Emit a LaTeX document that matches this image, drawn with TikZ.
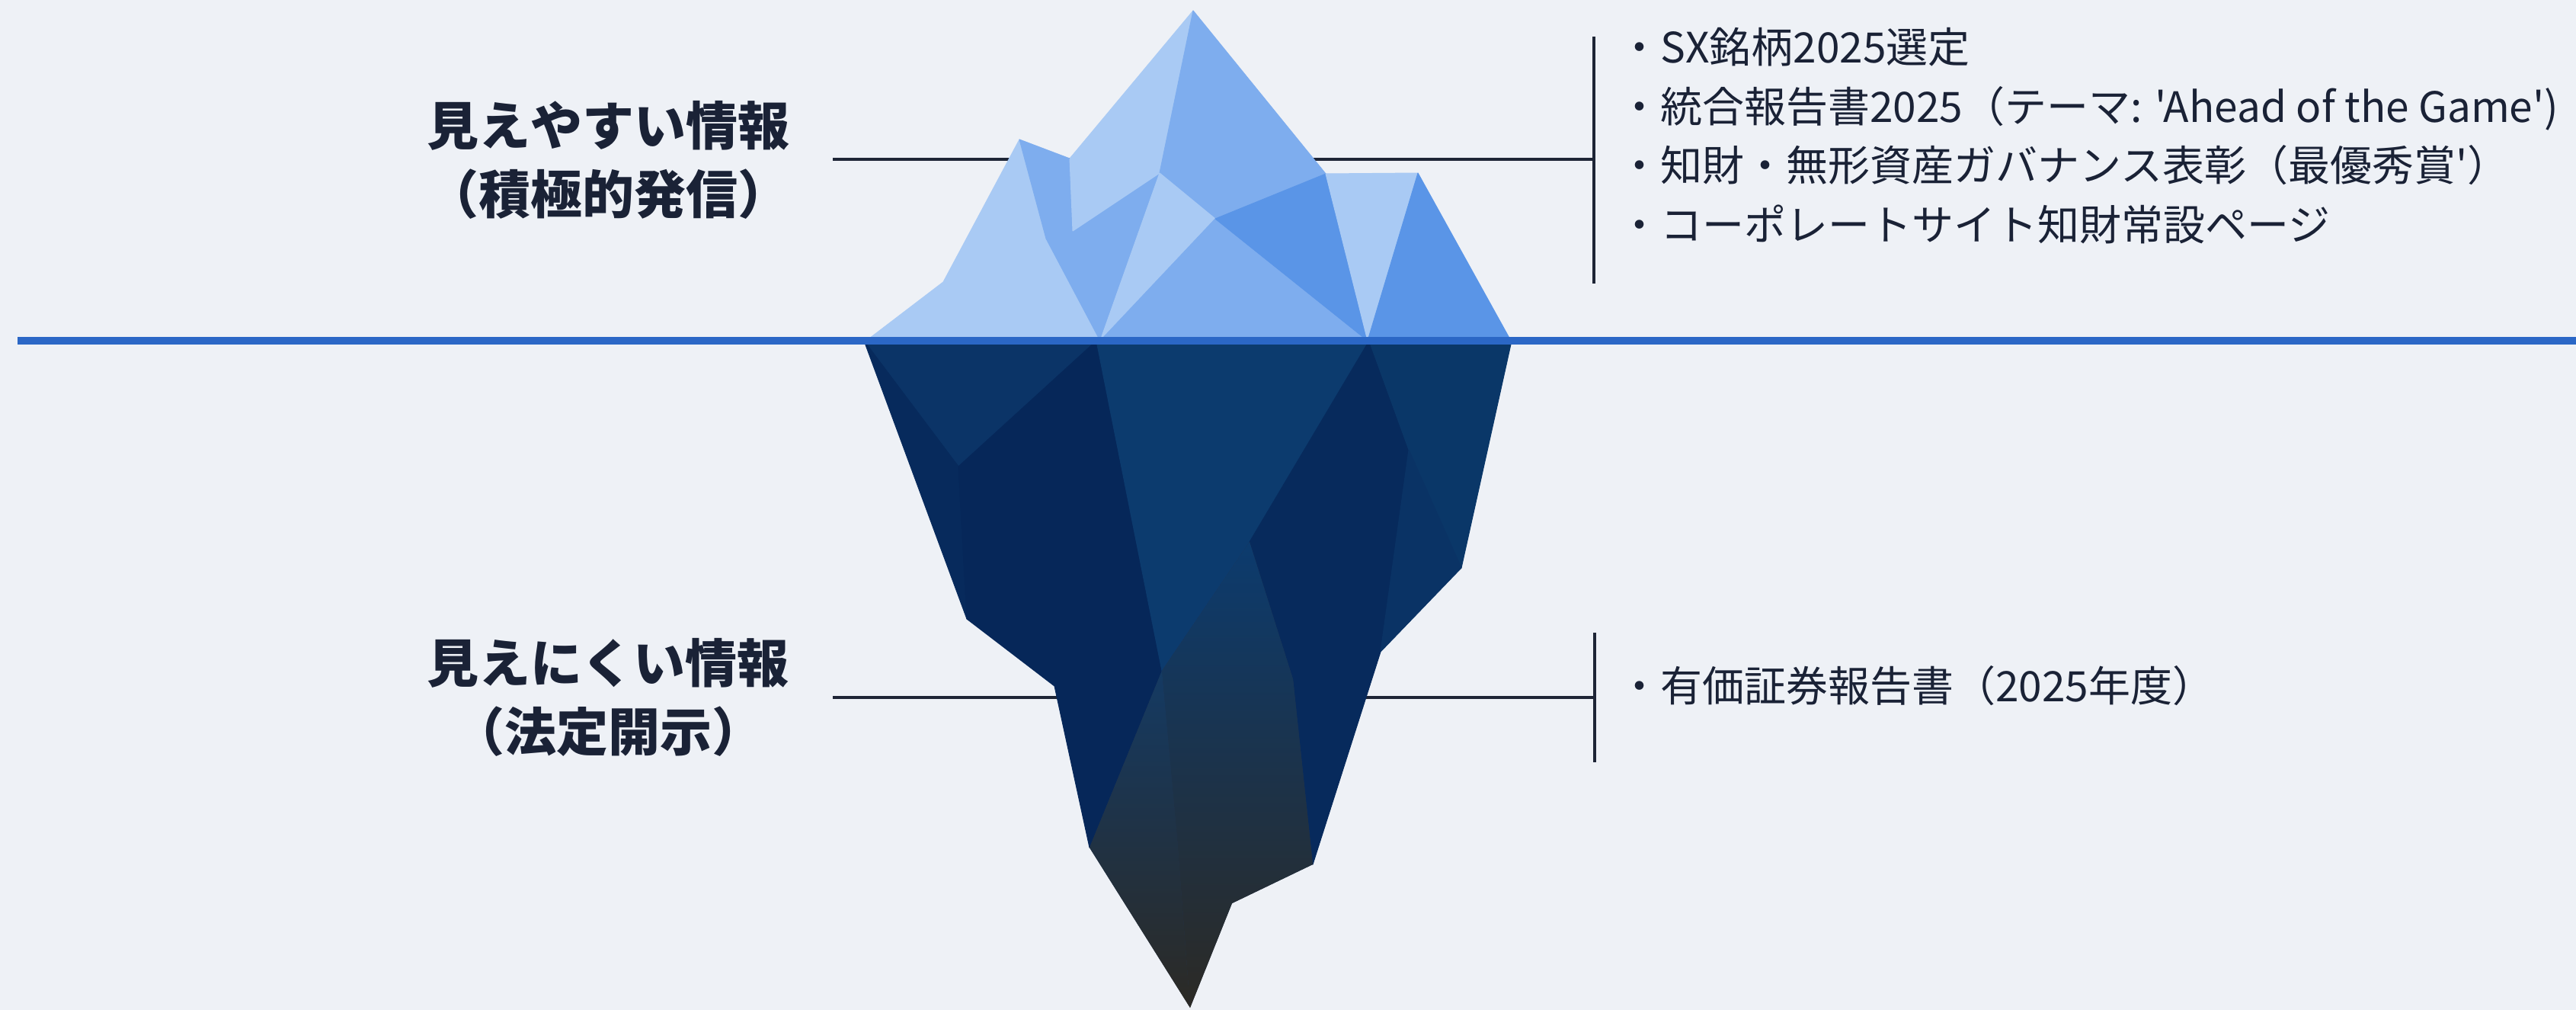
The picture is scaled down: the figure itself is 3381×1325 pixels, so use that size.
\documentclass[tikz,border=0pt]{standalone}
\usepackage{fontspec}
\setmainfont[Ligatures=TeXOff]{Noto Sans CJK JP}
\definecolor{bg}{HTML}{EEF1F6}
\definecolor{ink}{HTML}{1A2236}
\definecolor{rule}{HTML}{1E2536}
\definecolor{water}{HTML}{2B67C6}
\definecolor{iceL}{HTML}{A9CAF4}
\definecolor{iceM}{HTML}{7EADEE}
\definecolor{iceD}{HTML}{5A95E7}
\definecolor{deepA}{HTML}{0B3467}
\definecolor{deepB}{HTML}{072A5C}
\definecolor{deepC}{HTML}{062759}
\definecolor{deepD}{HTML}{0C3B6E}
\definecolor{deepE}{HTML}{0A3768}
\definecolor{deepF}{HTML}{0A3365}
\definecolor{deepG}{HTML}{24334F}
\definecolor{abyss}{HTML}{2C2A25}
\tikzset{
  conn/.style={draw=rule, line width=3.5pt},
  headlbl/.style={text=ink, align=center, font=\fontsize{68}{90}\selectfont\bfseries},
  item/.style={text=ink, anchor=west, inner sep=0pt, text height=0.88em, text depth=0.12em,
               font=\fontsize{55}{64}\selectfont},
  facet/.style={line join=round, line width=1pt},
}
\begin{document}
\begin{tikzpicture}[x=1pt,y=-1pt]
\fill[bg] (0,0) rectangle (3381,1325);
\useasboundingbox (0,0) rectangle (3381,1325);

% ---- connector end points ----
\coordinate (hl1) at (1093,209);
\coordinate (hr1) at (2092,209);
\coordinate (vt1) at (2092,48);
\coordinate (vb1) at (2092,372);
\coordinate (hl2) at (1093,915);
\coordinate (hr2) at (2093,915);
\coordinate (vt2) at (2093,830);
\coordinate (vb2) at (2093,1000);

% leader lines run behind the iceberg
\draw[conn] (hl1) -- (hr1);
\draw[conn] (vt1) -- (vb1);
\draw[conn] (hl2) -- (hr2);
\draw[conn] (vt2) -- (vb2);

% ---- iceberg above the surface ----
\coordinate (A) at (1566,14);
\coordinate (L) at (1338,183);
\coordinate (N) at (1404,208);
\coordinate (S) at (1238,370);
\coordinate (W) at (1137,447);
\coordinate (H) at (1740,228);
\coordinate (T) at (1861,227);
\coordinate (R) at (1983,447);
\coordinate (B) at (1522,227);
\coordinate (C) at (1595,287);
\coordinate (D) at (1408,303);
\coordinate (E) at (1373,313);
\coordinate (F) at (1444,447);
\coordinate (G) at (1795,447);

\filldraw[iceL,facet] (W) -- (S) -- (L) -- (E) -- (F) -- cycle;
\filldraw[iceM,facet] (L) -- (N) -- (D) -- (B) -- (F) -- (E) -- cycle;
\filldraw[iceL,facet] (N) -- (A) -- (B) -- (D) -- cycle;
\filldraw[iceM,facet] (A) -- (H) -- (C) -- (B) -- cycle;
\filldraw[iceL,facet] (B) -- (C) -- (F) -- cycle;
\filldraw[iceM,facet] (F) -- (C) -- (G) -- cycle;
\filldraw[iceD,facet] (C) -- (H) -- (G) -- cycle;
\filldraw[iceL,facet] (H) -- (T) -- (G) -- cycle;
\filldraw[iceD,facet] (T) -- (R) -- (G) -- cycle;

% ---- iceberg below the surface ----
\coordinate (U1) at (1134,447);
\coordinate (U2) at (1439,447);
\coordinate (U3) at (1797,447);
\coordinate (U4) at (1984,447);
\coordinate (P1) at (1258,612);
\coordinate (O1) at (1269,812);
\coordinate (O2) at (1384,900);
\coordinate (O3) at (1430,1112);
\coordinate (Tip) at (1562,1322);
\coordinate (O4) at (1617,1185);
\coordinate (O5) at (1723,1134);
\coordinate (O6) at (1812,855);
\coordinate (O7) at (1918,745);
\coordinate (Q1) at (1849,590);
\coordinate (Q2) at (1640,711);
\coordinate (Q3) at (1525,880);
\coordinate (Qx) at (1697,891);
\coordinate (Qy) at (1545,1100);

\filldraw[deepA,facet] (U1) -- (U2) -- (P1) -- cycle;
\filldraw[deepB,facet] (U1) -- (P1) -- (O1) -- cycle;
\filldraw[deepC,facet] (P1) -- (U2) -- (Q3) -- (O3) -- (O2) -- (O1) -- cycle;
\filldraw[deepD,facet] (U2) -- (U3) -- (Q2) -- (Q3) -- cycle;
\filldraw[deepB,facet] (U3) -- (Q1) -- (O6) -- (O5) -- (Qx) -- (Q2) -- cycle;
\filldraw[deepE,facet] (U3) -- (U4) -- (O7) -- (Q1) -- cycle;
\filldraw[deepF,facet] (Q1) -- (O7) -- (O6) -- cycle;
% deep core: a base fill under the two shaded facets hides their seam
\fill[deepG] (Q2) -- (Qx) -- (O5) -- (O4) -- (Tip) -- (O3) -- (Q3) -- cycle;
\shade[facet, top color=deepD, middle color={rgb,255:red,31;green,54;blue,88}, bottom color=abyss]
  (Q2) -- (Qx) -- (O5) -- (O4) -- (Tip) -- (Qy) -- (Q3) -- cycle;
\shade[facet, top color={rgb,255:red,20;green,58;blue,99}, middle color={rgb,255:red,36;green,51;blue,80}, bottom color=abyss]
  (Q3) -- (Qy) -- (Tip) -- (O3) -- cycle;

% ---- surface line ----
\coordinate (wl) at (23,447);
\coordinate (wr) at (3381,447);
\draw[water, line width=10pt] (wl) -- (wr);

% ---- left headings ----
\node[headlbl] (vis) at (798,210) {見えやすい情報\\（積極的発信）};
\node[headlbl] (hid) at (798,915) {見えにくい情報\\（法定開示）};

% ---- right item lists ----
\node[item] (i1) at (2124,79)  {・SX銘柄2025選定};
\node[item] (i2) at (2124,157) {・統合報告書2025（テーマ: 'Ahead of the Game')};
\node[item] (i3) at (2124,234) {・知財・無形資産ガバナンス表彰（最優秀賞'）};
\node[item] (i4) at (2124,312) {・コーポレートサイト知財常設ページ};
\node[item] (i5) at (2124,917) {・有価証券報告書（2025年度）};
\end{tikzpicture}
\end{document}
